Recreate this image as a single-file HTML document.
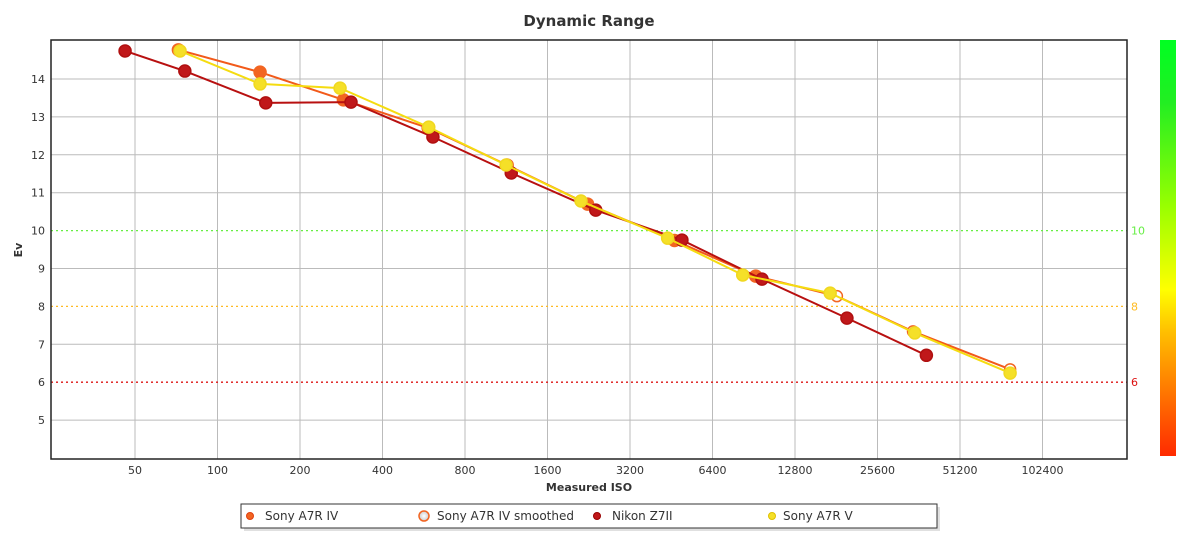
<!DOCTYPE html>
<html><head><meta charset="utf-8"><style>
body{margin:0;background:#fff;width:1200px;height:545px;overflow:hidden;font-family:"DejaVu Sans","Liberation Sans",sans-serif}
</style></head><body>
<svg id="chart" width="1200" height="545" xmlns="http://www.w3.org/2000/svg" font-family="DejaVu Sans, Liberation Sans, sans-serif">
<defs>
<linearGradient id="cb" x1="0" y1="1" x2="0" y2="0">
<stop offset="0" stop-color="#ff2a00"/><stop offset="0.3" stop-color="#ffc000"/><stop offset="0.4" stop-color="#ffff00"/><stop offset="0.6" stop-color="#99ff00"/><stop offset="0.85" stop-color="#22ee22"/><stop offset="1" stop-color="#00ff22"/>
</linearGradient>
<radialGradient id="hollow"><stop offset="0" stop-color="#fff"/><stop offset="1" stop-color="#ccc"/></radialGradient>
</defs>
<text x="589" y="26" text-anchor="middle" font-size="15" font-weight="bold" fill="#333">Dynamic Range</text>
<g id="grid"></g>
<g id="series"></g>
<rect x="51" y="40" width="1076" height="419" fill="none" stroke="#222" stroke-width="1.5"/>
<rect x="1160" y="40" width="16" height="416" fill="url(#cb)"/>
<text transform="translate(22,250) rotate(-90)" text-anchor="middle" font-size="11" font-weight="bold" fill="#333">Ev</text>
<text x="589" y="491" text-anchor="middle" font-size="11" font-weight="bold" fill="#333">Measured ISO</text>
<g>
<rect x="244" y="507" width="696" height="24" fill="#ccc" opacity="0.6"/>
<rect x="241" y="504" width="696" height="24" fill="#fff" stroke="#333" stroke-width="1"/>
<g><circle cx="250" cy="516" r="3.5" fill="#f26522" stroke="#e04010"/><text x="265" y="520" font-size="12" fill="#333">Sony A7R IV</text></g>
<g><circle cx="424" cy="516" r="5" fill="url(#hollow)" stroke="#f26522" stroke-width="1.5"/><text x="437" y="520" font-size="12" fill="#333">Sony A7R IV smoothed</text></g>
<g><circle cx="597" cy="516" r="3.5" fill="#c0181a" stroke="#900"/><text x="612" y="520" font-size="12" fill="#333">Nikon Z7II</text></g>
<g><circle cx="772" cy="516" r="3.5" fill="#f5e028" stroke="#e0c000"/><text x="783" y="520" font-size="12" fill="#333">Sony A7R V</text></g>
</g>
</svg>
<script>
const xTicks=[50,100,200,400,800,1600,3200,6400,12800,25600,51200,102400];
const yTicks=[5,6,7,8,9,10,11,12,13,14];
const nikonIso=[46,76,150,307,611,1180,2400,4950,9700,19800,38600];
const nikonEv=[14.74,14.21,13.37,13.39,12.47,11.52,10.54,9.75,8.72,7.69,6.71];
const a7r4Iso=[72,143,288,587,1140,2240,4650,9200,18200,34500,78000];
const a7r4Ev=[14.77,14.18,13.45,12.71,11.73,10.70,9.74,8.80,8.27,7.34,6.34];
const smoothIso=[18200,34500,78000];
const smoothEv=[8.27,7.34,6.34];
const a7r5Iso=[73,143,280,590,1130,2120,4390,8250,17200,35000,78000];
const a7r5Ev=[14.74,13.87,13.76,12.73,11.73,10.78,9.80,8.83,8.35,7.30,6.24];
const NS='http://www.w3.org/2000/svg';
const X=v=>135+82.5*Math.log2(v/50);
const Y=v=>79+(14-v)*37.9;
const grid=document.getElementById('grid'),ser=document.getElementById('series'),svg=document.getElementById('chart');
function mk(t,a,p){const e=document.createElementNS(NS,t);for(const k in a)e.setAttribute(k,a[k]);(p||svg).appendChild(e);return e;}
xTicks.forEach(t=>{const l=mk('line',{x1:X(t),x2:X(t),y1:40,y2:459,stroke:'#bbb','stroke-width':1},grid);


const tx=mk('text',{x:X(t),y:474,'text-anchor':'middle','font-size':11,fill:'#333'});tx.textContent=t;

});
const special={10:'#66ee44',8:'#ffbb22',6:'#dd1111'};
yTicks.forEach(t=>{const sp=special[t];const l=mk('line',{x1:51,x2:1127,y1:Y(t),y2:Y(t),stroke:sp||'#bbb','stroke-width':sp?1.3:1},grid);
if(sp)l.setAttribute('stroke-dasharray','2,3');


const tx=mk('text',{x:45,y:Y(t)+4,'text-anchor':'end','font-size':11,fill:'#333'});tx.textContent=t;


if(sp){const r=mk('text',{x:1131,y:Y(t)+4,'font-size':11,fill:sp});r.textContent=t;

}});
function line(xs,ys,c,name){const p=mk('polyline',{points:xs.map((v,i)=>X(v)+','+Y(ys[i])).join(' '),fill:'none',stroke:c,'stroke-width':2},ser);

}
function pts(xs,ys,fill,stroke,r,name,n){(n?xs.slice(0,n):xs).forEach((v,i)=>{const c=mk('circle',{cx:X(v),cy:Y(ys[i]),r:r,fill:fill,stroke:stroke,'stroke-width':1.5},ser);

});}
line(a7r4Iso,a7r4Ev,'#f25a1a','sony-a7r-iv-line');
pts(a7r4Iso,a7r4Ev,'#f26522','#f26522',6,'sony-a7r-iv-point',8);
pts(smoothIso,smoothEv,'#fff','#f26522',5.5,'sony-a7r-iv-smoothed-point');
line(nikonIso,nikonEv,'#b81010','nikon-z7ii-line');
pts(nikonIso,nikonEv,'#c0181a','#b01010',6,'nikon-z7ii-point');
line(a7r5Iso,a7r5Ev,'#f5dc10','sony-a7r-v-line');
pts(a7r5Iso,a7r5Ev,'#f5e028','#f0d820',6,'sony-a7r-v-point');
</script>
</body></html>
